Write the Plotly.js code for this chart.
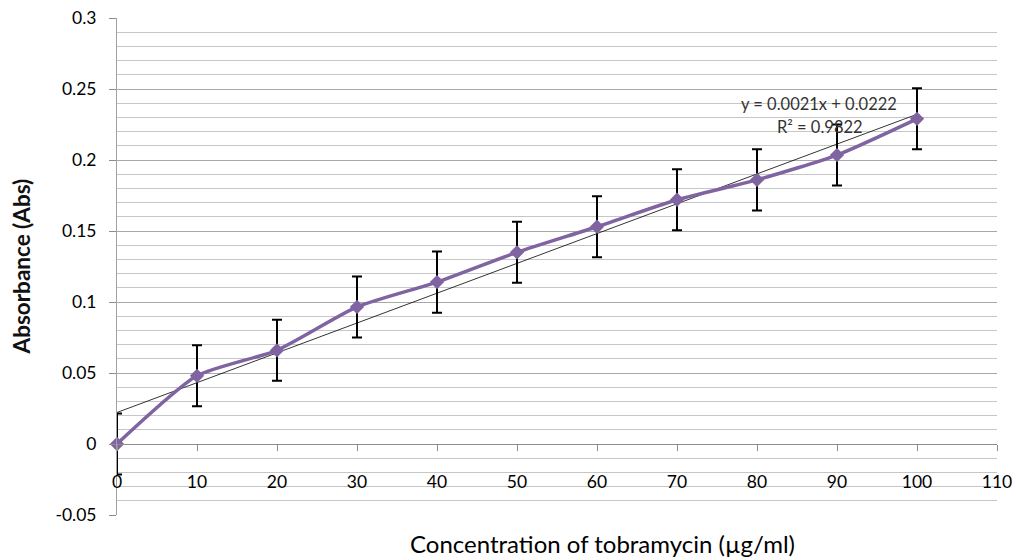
<!DOCTYPE html>
<html><head><meta charset="utf-8">
<script src="https://cdn.plot.ly/plotly-3.0.1.min.js"></script>
<style>html,body{margin:0;padding:0;background:#fff}#chart{width:1016px;height:560px}</style>
</head><body><div id="chart"></div>
<script>
const concentrations = [0, 10, 20, 30, 40, 50, 60, 70, 80, 90, 100];
const absorbance = [0, 0.048, 0.066, 0.0965, 0.114, 0.135, 0.153, 0.172, 0.186, 0.2035, 0.229];
const errorValues = [0.0215, 0.0215, 0.0215, 0.0215, 0.0215, 0.0215, 0.0215, 0.0215, 0.0215, 0.0215, 0.0215];
const slope = 0.0021, intercept = 0.0222, rSquared = 0.9822;
const trendX = [0, 100];
const trendY = trendX.map(x => slope * x + intercept);
const xTicks = [0, 10, 20, 30, 40, 50, 60, 70, 80, 90, 100, 110];
const yTicks = [-0.05, 0, 0.05, 0.1, 0.15, 0.2, 0.25, 0.3];

const font = "Lato, 'Open Sans', sans-serif";
const purple = '#8064A2';

const traces = [
  {x: trendX, y: trendY, mode: 'lines', line: {color: '#000', width: 0.8}, hoverinfo: 'skip', cliponaxis: false},
  {x: concentrations, y: absorbance, mode: 'lines+markers', cliponaxis: false,
   line: {color: purple, width: 3.5, shape: 'spline', smoothing: 0.6},
   marker: {symbol: 'diamond', size: 11, color: purple},
   error_y: {type: 'data', array: errorValues, visible: true, color: '#000', thickness: 2, width: 5}}
];

const layout = {
  width: 1016, height: 560,
  margin: {l: 117, r: 19, t: 18, b: 45},
  paper_bgcolor: '#fff', plot_bgcolor: '#fff',
  showlegend: false,
  font: {family: font, color: '#000', size: 17},
  xaxis: {
    range: [0, 110], tickvals: xTicks, ticktext: xTicks.map(String),
    anchor: 'free', position: 0.05/0.35,
    showgrid: false, zeroline: false,
    showline: true, linecolor: '#8c8c8c', linewidth: 1,
    ticks: 'outside', ticklen: 6, tickcolor: '#8c8c8c',
    ticklabelstandoff: 16,
    tickfont: {family: font, size: 17.5, color: '#000'}
  },
  yaxis: {
    range: [-0.05, 0.3], tickvals: yTicks, ticktext: yTicks.map(v => String(Math.round(v*100)/100)),
    showgrid: true, gridcolor: '#a8a8a8', gridwidth: 1,
    zeroline: false,
    showline: true, linecolor: '#a0a0a0', linewidth: 1,
    ticks: 'outside', ticklen: 7, tickcolor: '#8c8c8c',
    ticklabelstandoff: 9,
    tickfont: {family: font, size: 17.5, color: '#000'},
    minor: {dtick: 0.01, tick0: 0, showgrid: true, gridcolor: '#c6c6c6', gridwidth: 1, ticks: ''}
  },
  annotations: [
    {text: 'Concentration of tobramycin (µg/ml)', xref: 'paper', yref: 'paper', x: 0.552, y: -0.058,
     xanchor: 'center', yanchor: 'middle', showarrow: false, font: {family: font, size: 24, color: '#000'}},
    {text: '<b>Absorbance (Abs)</b>', xref: 'paper', yref: 'paper', x: -0.108, y: 0.5, textangle: -90,
     xanchor: 'center', yanchor: 'middle', showarrow: false, font: {family: font, size: 22.5, color: '#111'}},
    {text: 'y = ' + slope + 'x + ' + intercept, xref: 'x', yref: 'y', x: 87.8, y: 0.2395,
     showarrow: false, font: {family: font, size: 16.5, color: '#333'}},
    {text: 'R² = ' + rSquared, xref: 'x', yref: 'y', x: 87.9, y: 0.2233,
     showarrow: false, font: {family: font, size: 16.5, color: '#333'}}
  ]
};

Plotly.newPlot('chart', traces, layout, {staticPlot: true});
</script></body></html>
